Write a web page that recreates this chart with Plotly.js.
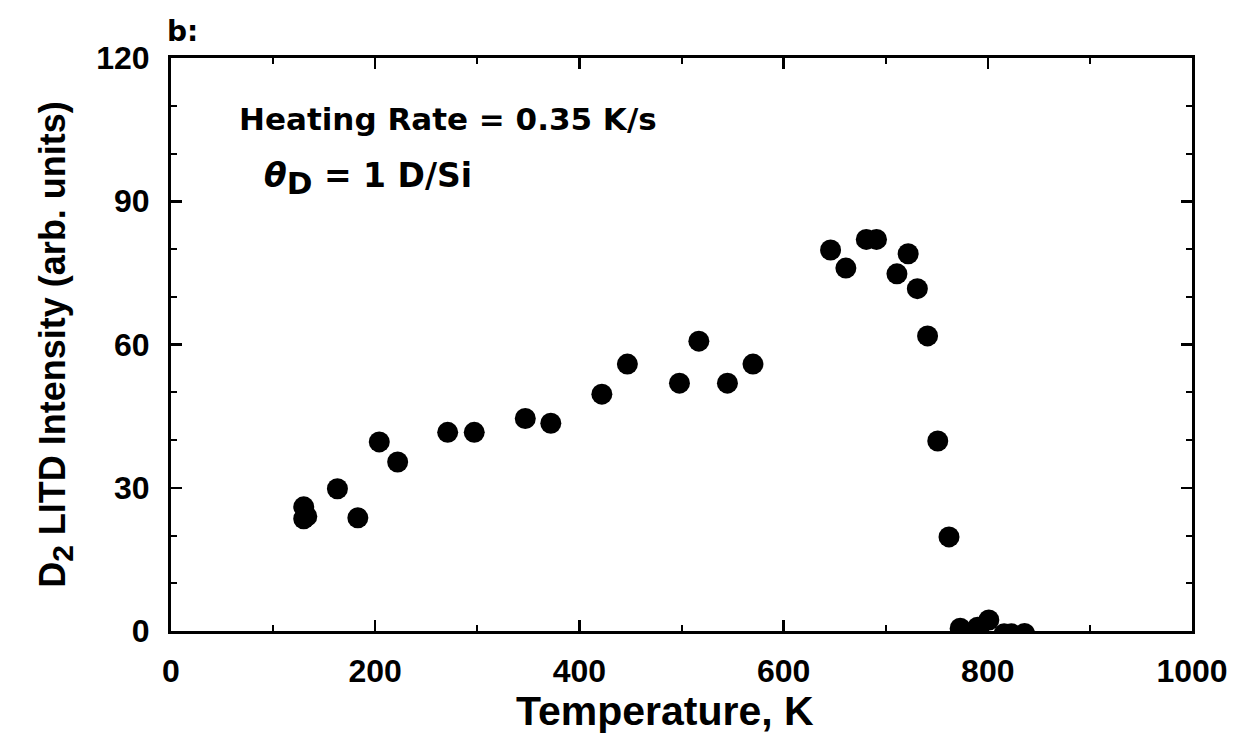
<!DOCTYPE html>
<html>
<head>
<meta charset="utf-8">
<script src="https://cdn.plot.ly/plotly-3.0.1.min.js"></script>
<style>html,body{margin:0;padding:0;background:#fff;}#chart{width:1235px;height:735px;}</style>
</head>
<body>
<div id="chart"></div>
<script>
// Temperature (K) and D2 LITD intensity (arb. units)
var temperature = [130, 130, 133, 163, 183, 204, 222, 271, 297, 347, 372, 422, 447, 498, 517, 545, 570,
                   646, 661, 681, 691, 711, 722, 731, 741, 751, 762, 773, 790, 801, 816, 823, 836];
var intensity   = [26, 23.5, 24, 29.8, 23.7, 39.6, 35.4, 41.6, 41.6, 44.5, 43.5, 49.6, 55.9, 51.9, 60.7, 51.9, 55.9,
                   79.8, 76, 82, 82, 74.8, 79, 71.7, 61.8, 39.8, 19.7, 0.6, 0.8, 2.3, -0.6, -0.6, -0.5];
var xTicks = [0, 200, 400, 600, 800, 1000];
var yTicks = [0, 30, 60, 90, 120];

var tickFont = {family: 'Liberation Sans, Arial, sans-serif', size: 32, color: '#000', weight: 'bold'};
var textFont = {family: 'DejaVu Sans, sans-serif', size: 31, color: '#000', weight: 'bold'};

var trace = {
  x: temperature, y: intensity, type: 'scatter', mode: 'markers',
  marker: {color: '#000', size: 21, symbol: 'circle'},
  showlegend: false, hoverinfo: 'x+y'
};

var layout = {
  width: 1235, height: 735,
  margin: {l: 171, r: 43, t: 58, b: 104},
  paper_bgcolor: '#fff', plot_bgcolor: '#fff',
  xaxis: {
    range: [0, 1000], tickvals: xTicks, ticktext: xTicks.map(String),
    ticks: 'inside', ticklen: 11, tickwidth: 2.5, tickcolor: '#000',
    minor: {dtick: 100, ticks: 'inside', ticklen: 6, tickwidth: 2, tickcolor: '#000'},
    showline: true, linewidth: 3, linecolor: '#000', mirror: 'allticks',
    showgrid: false, zeroline: false, tickfont: tickFont, ticklabelstandoff: 10
  },
  yaxis: {
    range: [0, 120], tickvals: yTicks, ticktext: yTicks.map(String),
    ticks: 'inside', ticklen: 11, tickwidth: 2.5, tickcolor: '#000',
    minor: {dtick: 10, ticks: 'inside', ticklen: 6, tickwidth: 2, tickcolor: '#000'},
    showline: true, linewidth: 3, linecolor: '#000', mirror: 'allticks',
    showgrid: false, zeroline: false, tickfont: tickFont, ticklabelstandoff: 12,
    title: {text: 'D<sub><span style="font-size:30px">2</span></sub> LITD Intensity (arb. units)', font: {family: 'Liberation Sans, Arial, sans-serif', size: 36, color: '#000', weight: 'bold'}, standoff: 20}
  },
  annotations: [
    {xref: 'paper', yref: 'paper', x: 0.484, y: -0.14, xanchor: 'center', yanchor: 'middle',
     text: 'Temperature, K', showarrow: false,
     font: {family: 'Liberation Sans, Arial, sans-serif', size: 41, color: '#000', weight: 'bold'}},
    {xref: 'paper', yref: 'paper', x: 0.0646, y: 0.893, xanchor: 'left', yanchor: 'middle',
     text: 'Heating Rate = 0.35 K/s', showarrow: false, font: textFont},
    {xref: 'paper', yref: 'paper', x: 0.089, y: 0.79, xanchor: 'left', yanchor: 'middle',
     text: '<i>θ</i><sub><span style="font-size:31px">D</span></sub> = 1 D/Si', showarrow: false,
     font: {family: 'DejaVu Sans, sans-serif', size: 33, color: '#000', weight: 'bold'}},
    {xref: 'paper', yref: 'paper', x: -0.006, y: 1.047, xanchor: 'left', yanchor: 'middle',
     text: 'b:', showarrow: false, font: {family: 'DejaVu Sans, sans-serif', size: 28, color: '#000', weight: 'bold'}}
  ]
};

Plotly.newPlot('chart', [trace], layout, {displayModeBar: false, staticPlot: true});
</script>
</body>
</html>
